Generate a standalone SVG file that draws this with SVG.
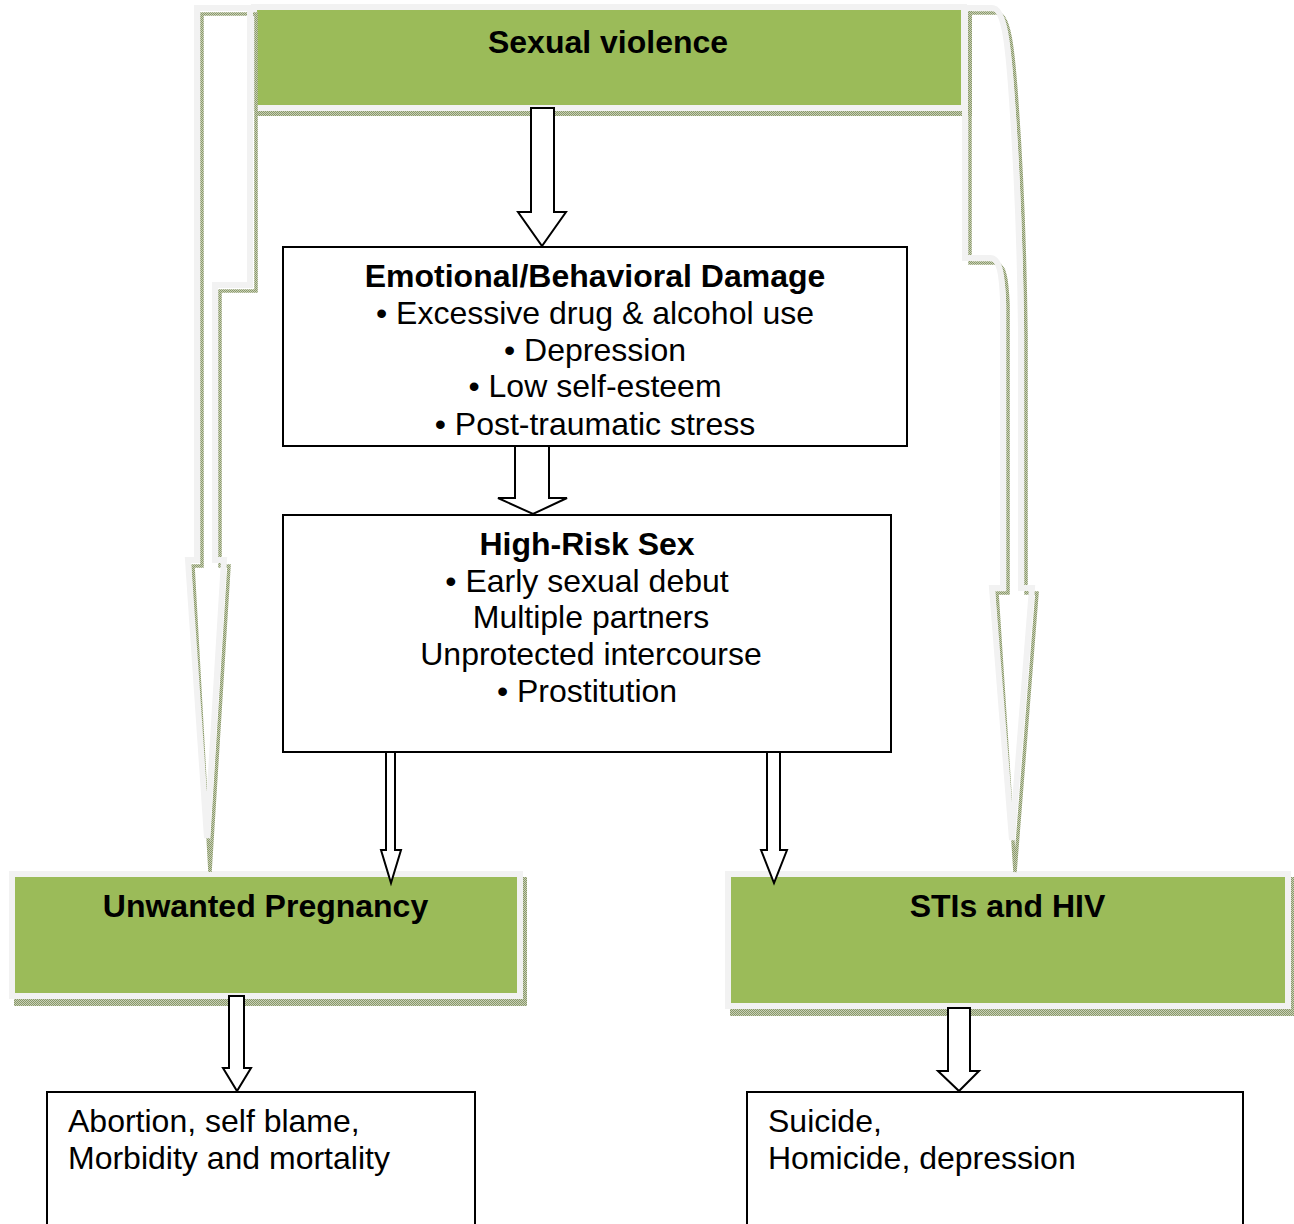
<svg xmlns="http://www.w3.org/2000/svg" width="1294" height="1224" viewBox="0 0 1294 1224">
<style>
text{font-family:"Liberation Sans",Arial,sans-serif;font-size:32px;fill:#000}
.b{font-weight:bold}
.c{text-anchor:middle}
.frame{fill:#9bbb59;stroke:#f2f2f2;stroke-width:6}
.shadow{fill:url(#tex)}
.box{fill:#fff;stroke:#000;stroke-width:2}
.blk{fill:#fff;stroke:#000;stroke-width:2;stroke-linejoin:miter}
.sh{fill:none;stroke:url(#tex);stroke-width:3.5}
.gl{fill:none;stroke:#f2f2f2;stroke-width:6;stroke-linejoin:miter}
</style>
<defs>
<pattern id="tex" patternUnits="userSpaceOnUse" width="2" height="2">
<rect width="2" height="2" fill="#c8cfb8"/>
<rect width="1" height="1" fill="#8a9968"/>
<rect x="1" y="1" width="1" height="1" fill="#8a9968"/>
</pattern>
</defs>
<rect width="1294" height="1224" fill="#fff"/>

<g id="node-sexual-violence">
<rect class="shadow" x="256" y="10" width="716" height="106"/>
<rect class="frame" x="254" y="7" width="710" height="101"/>
<text class="b c" x="608" y="53">Sexual violence</text>
</g>

<g id="node-unwanted-pregnancy">
<rect class="shadow" x="14" y="877" width="513" height="129"/>
<rect class="frame" x="12" y="874" width="508" height="122"/>
<text class="b c" x="265.5" y="917">Unwanted Pregnancy</text>
</g>

<g id="node-stis-hiv">
<rect class="shadow" x="730" y="877" width="566" height="139"/>
<rect class="frame" x="728" y="874" width="560" height="132"/>
<text class="b c" x="1007.5" y="917">STIs and HIV</text>
</g>

<g id="node-emotional">
<rect class="box" x="283" y="247" width="624" height="199"/>
<text class="b c" x="595" y="287">Emotional/Behavioral Damage</text>
<text class="c" x="595" y="324">• Excessive drug &amp; alcohol use</text>
<text class="c" x="595" y="361">• Depression</text>
<text class="c" x="595" y="397">• Low self-esteem</text>
<text class="c" x="595" y="435">• Post-traumatic stress</text>
</g>

<g id="node-high-risk">
<rect class="box" x="283" y="515" width="608" height="237"/>
<text class="b c" x="587" y="555">High-Risk Sex</text>
<text class="c" x="587" y="592">• Early sexual debut</text>
<text class="c" x="591" y="628">Multiple partners</text>
<text class="c" x="591" y="665">Unprotected intercourse</text>
<text class="c" x="587" y="702">• Prostitution</text>
</g>

<g id="node-abortion">
<rect class="box" x="47" y="1092" width="428" height="140"/>
<text x="68" y="1132">Abortion, self blame,</text>
<text x="68" y="1169">Morbidity and mortality</text>
</g>

<g id="node-suicide">
<rect class="box" x="747" y="1092" width="496" height="140"/>
<text x="768" y="1132">Suicide,</text>
<text x="768" y="1169">Homicide, depression</text>
</g>

<g id="connectors">
<path class="sh" d="M202,14 L256,14 L256,291 L220,291 L220,566 L229,566 L210,872 L193,566 L202,566 Z"/>
<path class="gl" d="M197,8 L250,8 L250,285 L215,285 L215,560 L224,560 L207,838 L188,560 L197,560 Z"/>
<path class="sh" d="M970,13 L997,13 C1009,13 1013,45 1017,105 C1022,175 1025,255 1026,335 L1026,593 L1037,593 L1015,872 L997,593 L1008,593 L1008,305 C1007,280 1005,263 995,263 L970,263 Z"/>
<path class="gl" d="M965,8 L992,8 C1004,8 1008,40 1012,100 C1017,170 1020,250 1021,330 L1021,588 L1032,588 L1012,840 L992,588 L1003,588 L1003,300 C1002,275 1000,258 990,258 L965,258 Z"/>
<path class="blk" d="M531,108 L554,108 L554,212 L566,212 L542,246 L518,212 L531,212 Z"/>
<path class="blk" d="M515,446 L549,446 L549,498 L567,498 L533,514 L498,498 L515,498 Z"/>
<path class="blk" d="M386,752 L395,752 L395,850 L401,850 L391,883 L381,850 L386,850 Z"/>
<path class="blk" d="M767,752 L780,752 L780,850 L787,850 L774,883 L761,850 L767,850 Z"/>
<path class="blk" d="M229,996 L244,996 L244,1068 L251,1068 L237,1091 L223,1068 L229,1068 Z"/>
<path class="blk" d="M948,1008 L970,1008 L970,1071 L979,1071 L959,1091 L938,1071 L948,1071 Z"/>
</g>
</svg>
